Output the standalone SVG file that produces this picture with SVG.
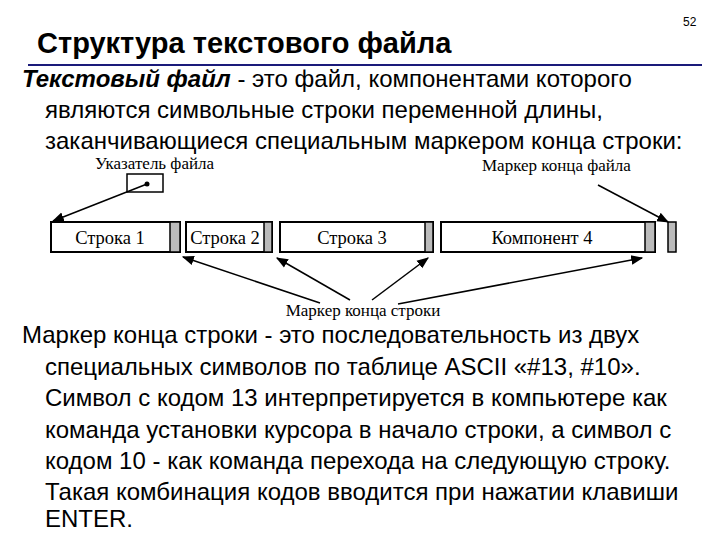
<svg xmlns="http://www.w3.org/2000/svg" width="720" height="540" viewBox="0 0 720 540">
<defs>
<style>
.t{font-family:"Liberation Sans",Arial,sans-serif;font-size:24px;fill:#000}
.s{font-family:"Liberation Serif","Times New Roman",serif;font-size:17px;fill:#000}
.c{font-size:18.5px}
.b{fill:#fff;stroke:#000;stroke-width:2}
.m{fill:#bbb;stroke:#000;stroke-width:1.5}
.a{stroke:#000;stroke-width:1.5;fill:none;marker-end:url(#ah)}
</style>
<marker id="ah" viewBox="0 0 10 10" refX="9" refY="5" markerWidth="8" markerHeight="8" orient="auto"><path d="M0,1 L10,5 L0,9 z" fill="#000"/></marker>
</defs>
<rect width="720" height="540" fill="#fff"/>
<text x="37" y="53" class="t" style="font-size:29px;font-weight:bold">Структура текстового файла</text>
<text x="683" y="26" class="t" style="font-size:12px">52</text>
<line x1="28" y1="65" x2="702" y2="65" stroke="#1a1a7a" stroke-width="2"/>
<text class="t"><tspan x="22" y="87"><tspan font-weight="bold" font-style="italic">Текстовый файл</tspan> - это файл, компонентами которого</tspan><tspan x="45" y="118">являются символьные строки переменной длины,</tspan><tspan x="45" y="149">заканчивающиеся специальным маркером конца строки:</tspan></text>
<g id="pointer"><text x="95" y="169" class="s">Указатель файла</text><rect x="127" y="174" width="36" height="18" fill="#fff" stroke="#000" stroke-width="1.5"/><circle cx="147" cy="184" r="2.5"/></g>
<g id="eoflabel"><text x="482" y="171" class="s">Маркер конца файла</text></g>
<g id="s1"><rect x="51" y="222" width="129" height="30" class="b"/><rect x="170" y="222" width="10" height="30" class="m"/><text x="110" y="244" class="s c" text-anchor="middle">Строка 1</text></g>
<g id="s2"><rect x="186" y="222" width="86" height="30" class="b"/><rect x="264" y="222" width="8" height="30" class="m"/><text x="225" y="244" class="s c" text-anchor="middle">Строка 2</text></g>
<g id="s3"><rect x="280" y="222" width="153" height="30" class="b"/><rect x="425" y="222" width="8" height="30" class="m"/><text x="352" y="244" class="s c" text-anchor="middle">Строка 3</text></g>
<g id="s4"><rect x="441" y="222" width="214" height="30" class="b"/><rect x="645" y="222" width="10" height="30" class="m"/><text x="542" y="244" class="s c" text-anchor="middle">Компонент 4</text></g>
<g id="eof"><rect x="668" y="222" width="8" height="30" class="m"/></g>
<g id="eollabel"><text x="363" y="316" class="s" text-anchor="middle">Маркер конца строки</text></g>
<g id="connectors">
<line x1="147" y1="184" x2="53" y2="221" class="a"/>
<line x1="598" y1="185" x2="668" y2="222" class="a"/>
<line x1="320" y1="303" x2="183" y2="257" class="a"/>
<line x1="350" y1="300" x2="277" y2="258" class="a"/>
<line x1="372" y1="300" x2="428" y2="258" class="a"/>
<line x1="398" y1="304" x2="642" y2="258" class="a"/>
</g>
<text class="t"><tspan x="22" y="343">Маркер конца строки - это последовательность из двух</tspan><tspan x="45" y="375">специальных символов по таблице ASCII «#13, #10».</tspan><tspan x="45" y="406">Символ с кодом 13 интерпретируется в компьютере как</tspan><tspan x="45" y="438">команда установки курсора в начало строки, а символ с</tspan><tspan x="45" y="469">кодом 10 - как команда перехода на следующую строку.</tspan><tspan x="45" y="500">Такая комбинация кодов вводится при нажатии клавиши</tspan><tspan x="45" y="527">ENTER.</tspan></text>
</svg>
